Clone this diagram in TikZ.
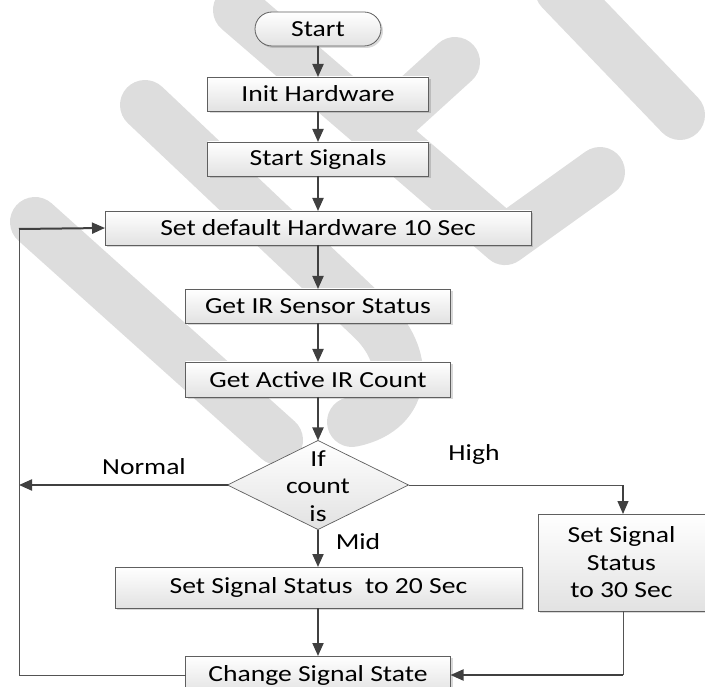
\documentclass[tikz,border=0pt]{standalone}
\usepackage{fontspec}
\setmainfont[FakeStretch=1.2]{Carlito}
\usetikzlibrary{arrows.meta,shapes.geometric,shadows}
\definecolor{wmgray}{RGB}{221,221,221}
\definecolor{dk}{RGB}{64,64,64}
\definecolor{bord}{RGB}{95,95,95}
\definecolor{boxbot}{RGB}{226,226,226}
\begin{document}
\begin{tikzpicture}[x=1pt,y=-1pt,
  wm/.style={draw=wmgray, line width=50pt, line cap=round, line join=round},
  box/.style={draw=bord, line width=0.8pt, top color=white, bottom color=boxbot,
    minimum height=34pt, inner sep=0pt, outer sep=0pt,
    font=\fontsize{23}{27.5}\selectfont, text=black, align=center,
    drop shadow={shadow xshift=2pt, shadow yshift=-2pt, fill=black, opacity=0.15}},
  dia/.style={draw=bord, line width=0.7pt, top color=white, bottom color=boxbot,
    shape=diamond, aspect=2.03, minimum width=181pt, minimum height=89pt,
    inner sep=0pt, outer sep=0pt},
  lbl/.style={font=\fontsize{23}{27.5}\selectfont, text=black, align=center, inner sep=0pt},
  arr/.style={draw=dk, line width=2pt, -{Triangle[length=13pt,width=11pt]}},
  thinl/.style={draw=dk!90, line width=1pt},
  thinarr/.style={draw=dk, line width=1.2pt, -{Triangle[length=13pt,width=11pt]}}
]
\useasboundingbox (0,0) rectangle (705,687);
% watermark
\draw[wm] (238,10) -- (505,240) -- (600,172);
\draw[wm] (455,62) -- (378,132);
\draw[wm] (560,-10) -- (680,115);
\draw[wm] (145,105) -- (370,318) .. controls (410,355) and (410,410) .. (352,422);
\draw[wm] (35,222) -- (278,440);
% nodes
\node[box, rounded corners=17pt, minimum width=126pt] (start) at (318,29) {Start};
\node[box, minimum width=221pt] (init) at (318,94) {Init Hardware};
\node[box, minimum width=221pt] (sig) at (318,159) {Start Signals};
\node[box, minimum width=426pt] (setdef) at (318,228) {Set default Hardware 10 Sec};
\node[box, minimum width=265pt] (getir) at (318,306) {Get IR Sensor Status};
\node[box, minimum width=265pt, minimum height=35pt] (getcnt) at (318,379.5) {Get Active IR Count};
\node[dia] (dec) at (318,485) {};
\node[lbl] (dectext) at (318,486) {If\\count\\is};
\node[box, minimum width=407pt, minimum height=41pt] (set20) at (318.5,587.5) {Set Signal Status\ \ to 20 Sec};
\node[box, minimum width=167pt, minimum height=97pt] (set30) at (621.5,562.5) {Set Signal\\Status\\to 30 Sec};
\node[box, minimum width=265pt, minimum height=38pt] (change) at (318,675) {Change Signal State};
% labels
\node[lbl] (lnormal) at (144,467) {Normal};
\node[lbl] (lhigh) at (474,454) {High};
\node[lbl] (lmid) at (358,542) {Mid};
% coordinates
\coordinate (lx) at (19,485);
\coordinate (ly) at (19,229);
\coordinate (lb) at (19,675);
\coordinate (hc) at (623,485);
\coordinate (rb) at (623,675);
% connectors
\draw[arr] (start) -- (init);
\draw[arr] (init) -- (sig);
\draw[arr] (sig) -- (setdef);
\draw[arr] (setdef) -- (getir);
\draw[arr] (getir) -- (getcnt);
\draw[arr] (getcnt) -- (dec);
\draw[arr] (dec.south) -- (set20.north -| dec.south);
\draw[arr] (set20.south -| change.north) -- (change.north);
\draw[arr] (dec.west) -- (lx);
\draw[thinl] (dec.east) -- (hc);
\draw[thinarr] (hc) -- (set30.north -| hc);
\draw[thinl] (set30.south -| rb) -- (rb);
\draw[arr] (rb) -- (change.east);
\draw[thinl] (change.west) -- (lb) -- (ly);
\draw[arr] (ly) -- (setdef.west);
\end{tikzpicture}
\end{document}
